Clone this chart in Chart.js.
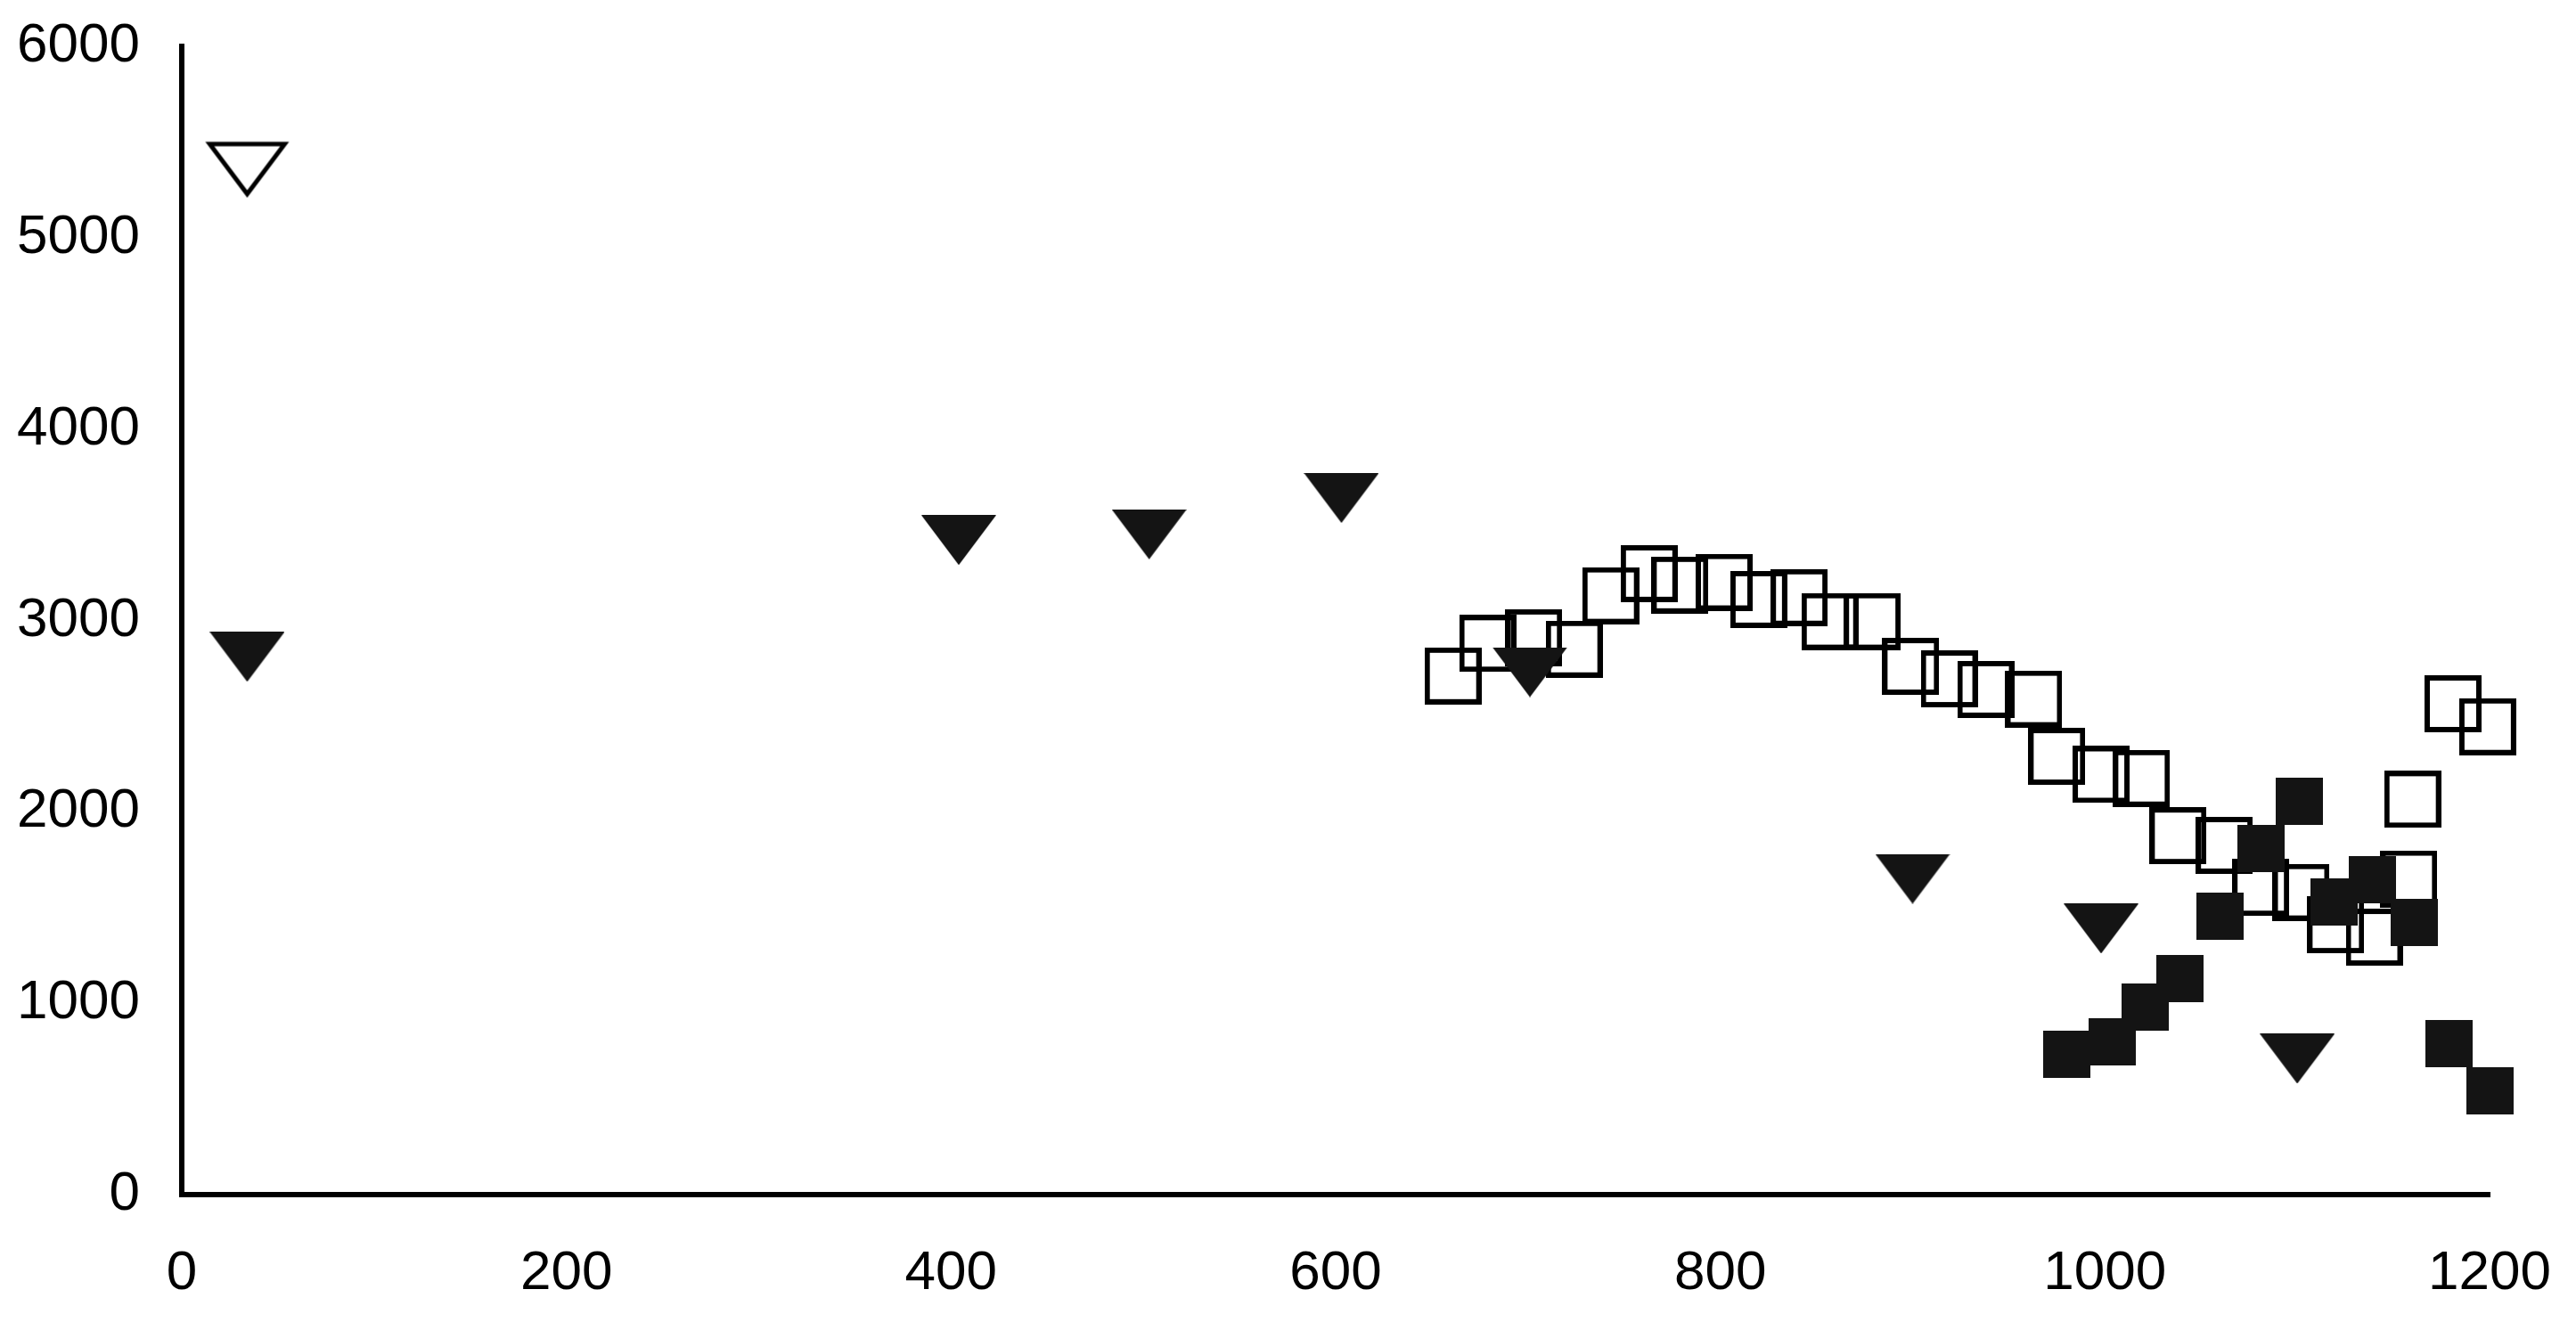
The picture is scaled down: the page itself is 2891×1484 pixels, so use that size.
<!DOCTYPE html>
<html>
<head>
<meta charset="utf-8">
<title>Scatter</title>
<script src="https://cdn.jsdelivr.net/npm/chart.js"></script>
<style>
  body { margin: 0; background: #fff; }
  #wrap { width: 2891px; height: 1484px; position: relative; }
</style>
</head>
<body>
<div id="wrap"><canvas id="myChart"></canvas></div>
<script>
const xTickValues = [0, 200, 400, 600, 800, 1000, 1200];
const yTickValues = [0, 1000, 2000, 3000, 4000, 5000, 6000];

const openTriX = [34];
const openTriY = [5350];

const filledTriX = [34, 404, 503, 603, 701, 900, 998, 1100];
const filledTriY = [2810, 3420, 3450, 3640, 2730, 1650, 1390, 710];

const openSqX = [661, 679, 703, 724, 743, 763, 779, 802, 820, 841, 857, 879, 899, 919, 938,
  963, 975, 998, 1019, 1038, 1062, 1081, 1102, 1120, 1140, 1158, 1160, 1181, 1199];
const openSqY = [2710, 2880, 2910, 2850, 3130, 3245, 3185, 3200, 3110, 3120, 2995, 2995, 2760, 2695, 2640,
  2590, 2290, 2195, 2175, 1875, 1825, 1605, 1580, 1410, 1345, 1650, 2065, 2565, 2445];

const filledSqX = [980, 1004, 1021, 1039, 1060, 1081, 1101, 1119, 1139, 1161, 1179, 1200];
const filledSqY = [735, 800, 980, 1130, 1455, 1810, 2055, 1530, 1645, 1420, 790, 540];

const pts = (xs, ys) => xs.map((x, i) => ({ x: x, y: ys[i] }));

// marker shapes drawn on small canvases (Chart.js centres them on the point)
const makeMarker = (w, h, paint) => {
  const c = document.createElement('canvas');
  c.width = w;
  c.height = h;
  paint(c.getContext('2d'));
  return c;
};

const dark = '#141414';

const filledTri = makeMarker(84, 56, g => {
  g.fillStyle = dark;
  g.beginPath();
  g.moveTo(0, 0);
  g.lineTo(84, 0);
  g.lineTo(42, 56);
  g.closePath();
  g.fill();
});

const openTri = makeMarker(100, 68, g => {
  g.strokeStyle = '#000';
  g.lineWidth = 5;
  g.beginPath();
  g.moveTo(8, 4);
  g.lineTo(92, 4);
  g.lineTo(50, 60);
  g.closePath();
  g.stroke();
});

const openSq = makeMarker(64, 64, g => {
  g.strokeStyle = '#000';
  g.lineWidth = 6;
  g.strokeRect(3, 3, 58, 58);
});

const filledSq = makeMarker(53, 53, g => {
  g.fillStyle = dark;
  g.fillRect(0, 0, 53, 53);
});

const tickFont = { family: "'Liberation Sans', Arial, sans-serif", size: 62 };

// keep the plot box where the layout padding puts it
const noOverflow = s => {
  s.paddingTop = 0;
  s.paddingBottom = 0;
  s.paddingLeft = 0;
  s.paddingRight = 0;
};

const ctx = document.getElementById('myChart');

new Chart(ctx, {
  type: 'scatter',
  data: {
    datasets: [
      { label: 'open squares', data: pts(openSqX, openSqY), pointStyle: openSq, pointRadius: 32, order: 3, clip: false },
      { label: 'filled squares', data: pts(filledSqX, filledSqY), pointStyle: filledSq, pointRadius: 27, order: 2, clip: false },
      { label: 'filled triangles', data: pts(filledTriX, filledTriY), pointStyle: filledTri, pointRadius: 40, order: 1, clip: false },
      { label: 'open triangle', data: pts(openTriX, openTriY), pointStyle: openTri, pointRadius: 45, order: 0, clip: false }
    ]
  },
  options: {
    responsive: true,
    maintainAspectRatio: false,
    animation: false,
    events: [],
    layout: { padding: { top: 52, right: 97, left: 0, bottom: 0 } },
    plugins: {
      legend: { display: false },
      tooltip: { enabled: false }
    },
    scales: {
      x: {
        type: 'linear',
        min: 0,
        max: 1200,
        grid: { display: false, drawTicks: false },
        border: { display: true, color: '#000', width: 6 },
        ticks: { font: tickFont, color: '#000', padding: 52, maxRotation: 0, callback: v => String(v) },
        afterBuildTicks: scale => { scale.ticks = xTickValues.map(v => ({ value: v })); },
        afterFit: scale => { scale.height = 143; noOverflow(scale); }
      },
      y: {
        type: 'linear',
        min: 0,
        max: 6000,
        grid: { display: false, drawTicks: false },
        border: { display: true, color: '#000', width: 6 },
        ticks: { font: tickFont, color: '#000', padding: 47, callback: v => String(v) },
        afterBuildTicks: scale => { scale.ticks = yTickValues.map(v => ({ value: v })); },
        afterFit: scale => { scale.width = 204; noOverflow(scale); }
      }
    }
  }
});
</script>
</body>
</html>
